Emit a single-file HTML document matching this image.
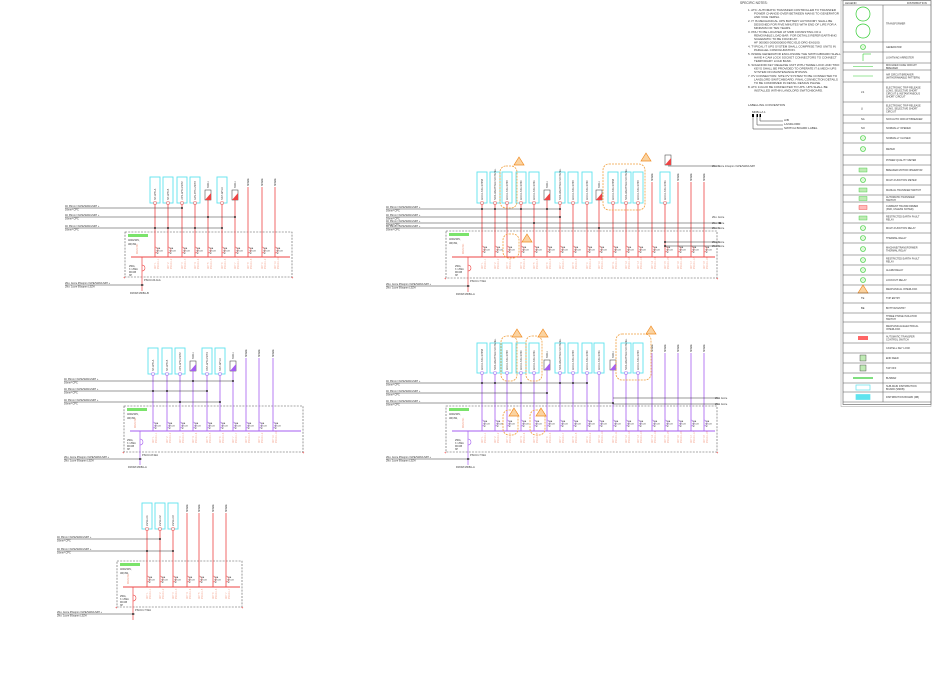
<!DOCTYPE html>
<html><head><meta charset="utf-8"><style>
html,body{margin:0;padding:0;background:#fff;}
svg{display:block;font-family:"Liberation Sans",sans-serif;}
</style></head><body>
<svg id="s" width="932" height="696" viewBox="0 0 932 696" xmlns="http://www.w3.org/2000/svg">
<g id="notes" font-size="3" fill="#333">
<text x="740" y="4" font-size="3.2">SPECIFIC NOTES:</text>
<text x="748" y="11">1.   ATC: AUTOMATIC TRANSFER CONTROLLER TO TRANSFER</text>
<text x="754" y="14.5">POWER CHANGE-OVER BETWEEN MAINS TO GENERATOR</text>
<text x="754" y="18">AND VICE VERSA.</text>
<text x="748" y="22">2.   IT IS MECHANICAL UPS BATTERY AUTONOMY SHALL BE</text>
<text x="754" y="25.5">DESIGNED FOR FIVE MINUTES WITH END OF LIFE FOR A</text>
<text x="754" y="29">MINIMUM OF TEN YEARS.</text>
<text x="748" y="33">3.   PDU TO BE LOCATED AT MDB CONSISTING OF A</text>
<text x="754" y="36.5">REMOVABLE LOAD BAR. FOR DETAILS REFER EARTHING</text>
<text x="754" y="40">SCHEMATIC TO BE FOUND AT:</text>
<text x="754" y="43.5">HF 000000 0000000000 REC-ELE-DRG-EA0100.</text>
<text x="748" y="47.5">4.   TYPICAL IT UPS SYSTEM SHALL COMPRISE TWO UNITS IN</text>
<text x="754" y="51">PARALLEL CONFIGURATION.</text>
<text x="748" y="55">5.   INSIDE GENERATOR ENCLOSURE THE SWITCHBOARD SHALL</text>
<text x="754" y="58.5">HAVE 4 CAM LOCK SOCKET CONNECTORS TO CONNECT</text>
<text x="754" y="62">TEMPORARY LOAD BANK.</text>
<text x="748" y="66">6.   SOLENOID KEY RELEASE UNIT WITH THREE LOCK AND TWO</text>
<text x="754" y="69.5">KEYS SHALL BE PROVIDED TO OPERATE IT &amp; MECH UPS</text>
<text x="754" y="73">SYSTEM ON MAINTENANCE BYPASS.</text>
<text x="748" y="77">7.   PV CONNECTION: SITE PV SYSTEM TO BE CONNECTED TO</text>
<text x="754" y="80.5">LANDLORD SWITCHBOARD. FINAL CONNECTION DETAILS</text>
<text x="754" y="84">TO BE CONFIRMED IN DETAIL DESIGN PHASE.</text>
<text x="748" y="88">8.   ATC 3-IGUO BE CONNECTED TO UPS. UPS SHALL BE</text>
<text x="754" y="91.5">INSTALLED WITHIN LANDLORD SWITCHBOARD.</text>
<text x="748" y="106">LABELLING CONVENTION</text>
<text x="752" y="113">MDB-LA 1</text>
<text x="784" y="121">A/B</text>
<text x="784" y="125">LANDLORD</text>
<text x="784" y="129">SWITCH BOARD LABEL</text>
<path d="M753 114v15h30M757 114v11h26M760 114v7h23" stroke="#333" stroke-width="0.5" fill="none"/>
<rect x="752" y="114" width="2" height="3" fill="#000"/><rect x="756.5" y="114" width="1.5" height="3" fill="#000"/><rect x="759.5" y="114" width="1.5" height="3" fill="#000"/>
</g>
<g id="g"></g>
</svg>
<script>
const NS="http://www.w3.org/2000/svg",G=document.getElementById('g');
function el(t,a,txt){const e=document.createElementNS(NS,t);for(const k in a)e.setAttribute(k,a[k]);if(txt!==undefined)e.textContent=txt;G.appendChild(e);return e;}
function line(x1,y1,x2,y2,c,w,d){const a={x1,y1,x2,y2,stroke:c,'stroke-width':w||0.6};if(d)a['stroke-dasharray']=d;return el('line',a);}
function txt(x,y,s,c,fs,rot){const a={x,y,fill:c||'#333','font-size':fs||3};if(rot)a.transform=`rotate(-90 ${x} ${y})`;return el('text',a,s);}
function cloud(x,y,w,h){el('rect',{x,y,width:w,height:h,rx:6,fill:'none',stroke:'#f0a040','stroke-width':0.8,'stroke-dasharray':'2 1'});}
function tri(x,y){el('path',{d:`M${x} ${y-5}l5 8h-10z`,fill:'#fbd3a0',stroke:'#f08a20','stroke-width':0.7});}
function panel(o){
 const c=o.c;
 el('rect',{x:o.bx,y:o.by,width:o.bw,height:o.bh,fill:'none',stroke:'#555','stroke-width':0.6,'stroke-dasharray':'2 1.2'});
 el('rect',{x:o.bx+3,y:o.by+2,width:20,height:3,fill:'#7be36b'});
 txt(o.bx+3,o.by+9,'400/230V,','#333',2.6);txt(o.bx+3,o.by+13,'3Ø,4W,','#333',2.6);
 line(o.bx+6,o.bus,o.bx+o.bw-2,o.bus,c,0.9);
 line(o.ix,o.bus,o.ix,o.fy+6,c,0.7);
 el('path',{d:`M${o.ix} ${o.bus+8}a3 3 0 0 1 0 6`,fill:'none',stroke:c,'stroke-width':0.6});
 txt(o.ix-13,o.bus+10,'250A,','#333',2.4);txt(o.ix-13,o.bus+13,'3 / 25kA','#333',2.4);txt(o.ix-13,o.bus+16,'MCCB','#333',2.4);txt(o.ix-13,o.bus+19,'3P','#333',2.4);
 txt(o.ix+2,o.by+o.bh+4,o.pn,'#333',2.6);
 line(o.bx-60,o.fy,o.ix+2,o.fy,'#333',0.6);el('circle',{cx:o.ix,cy:o.fy,r:0.9,fill:'#000'});
 txt(o.bx-60,o.fy-1,'2No. 4core 95sqmm XLPE/SWA/LSZH +','#333',2.5);txt(o.bx-60,o.fy+2.5,'2No. 1core 95sqmm LSZH','#333',2.5);
 if(o.from)txt(o.ix-12,o.fy+9,o.from,'#333',2.7);
 txt(o.bx+o.bw-1,o.by+o.bh+2,'+','#e00',4);txt(o.bx-2,o.by+o.bh+2,'+','#e00',4);
 txt(o.ix-4,o.bus-3,'MAIN INC','#f4a08a',2.3,1);
 o.xs.forEach((x,i)=>{
  const t=o.t[i];
  const top=t=='s'?o.lt+10:o.lb;
  line(x,top,x,o.bus,c,0.8);
  el('path',{d:`M${x} ${o.brk-3}a3 3 0 0 1 0 6`,fill:'none',stroke:c,'stroke-width':0.5});
  txt(x+1.5,o.brk-1,'63A','#333',2.1);txt(x+1.5,o.brk+1.5,'MCCB','#333',2.1);txt(x+1.5,o.brk+4,'3P','#333',2.1);
  txt(x+1,o.bus+12,'CKT '+(i+1),'#f4a08a',2.3,1);txt(x+4,o.bus+12,o.pn.slice(0,6)+'-'+(i+1),'#f4a08a',2.3,1);
  if(t=='b'){const w=10;el('rect',{x:x-w/2,y:o.lt,width:w,height:o.lb-o.lt,fill:'#fff',stroke:'#5fe3ee','stroke-width':0.9});
   txt(x+1,o.lb-3,o.names[i%o.names.length],'#333',2.5,1);el('rect',{x:x-1.2,y:o.lb-1.2,width:2.4,height:2.4,fill:'#fff',stroke:c,'stroke-width':0.5});}
  else if(t=='i'){el('rect',{x:x-3,y:o.lb-13,width:6,height:10,fill:'#fff',stroke:'#333','stroke-width':0.5});
   el('path',{d:`M${x-3} ${o.lb-3}l6 -7v7z`,fill:c});txt(x+1,o.lb-15,'SSR-1','#333',2.3,1);line(x,o.lb-3,x,o.lb,c,0.8);}
  else{txt(x+1,o.lt+9,'SPARE','#333',2.3,1);}
 });
 o.feed.forEach(f=>{line(o.bx-60,f[0],f[1],f[0],'#333',0.6);f.slice(2).forEach(x=>el('circle',{cx:x,cy:f[0],r:0.9,fill:'#000'}));
   txt(o.bx-60,f[0]-1,'4C 35mm² XLPE/SWA/LSZH +','#333',2.5);txt(o.bx-60,f[0]+2.5,'16mm² CPC','#333',2.5);});
}
const N1=['SP-WTI-A','SP-WTI-B','UPS-WTI-UNIT2','FAN-PPS-UNIT3','DSP-WTI-UNIT4','SSP-WTI-C'];
const N2=['ACCU-SS1-SP358','NDS-WEATHER-SR PANEL','ACCU-SS1-SP39','ACCU-SS1-SP40','ACCU-SS1-SP41'];
const R='#ee4444',P='#a55ef0';
const X18=[482,495,507,521,534,547,560,573,587,599,613,626,638,652,665,678,691,704];
panel({c:R,bx:125,by:232,bw:167,bh:45,bus:257,brk:250,ix:142,fy:285,pn:'PSCC1:R-1kA',from:'FROM MDB-LB',
 xs:[155,168,182,195,208,222,235,248,262,275],t:'bbbbibisss'.split(''),lt:177,lb:203,names:N1,
 feed:[[208,182,182],[217,235,208,235],[228,222,155,168,195,222]]});
panel({c:R,bx:446,by:231,bw:271,bh:47,bus:257,brk:249,ix:468,fy:286,pn:'PSCC1:7.5kA',from:'FROM MDB-LA',
 xs:X18,t:'bbbbbibbbibbbsbsss'.split(''),lt:172,lb:203,names:N2,
 feed:[[209,560,482,495,521,547,560],[217,560,560],[223,720,534,720],[228,720,599]]});
panel({c:P,bx:124,by:406,bw:179,bh:46,bus:431,brk:425,ix:140,fy:459,pn:'PSCC1:8.3kA',from:'FROM MDB-LA',
 xs:[153,167,180,193,207,220,233,246,259,273],t:'bbbibbisss'.split(''),lt:348,lb:374,names:N1,
 feed:[[381,233,193,233],[391,207,153,167,207],[402,220,180,220]]});
panel({c:P,bx:446,by:406,bw:271,bh:46,bus:431,brk:423,ix:468,fy:459,pn:'PSCC1:7.5kA',from:'FROM MDB-LA',
 xs:X18,t:'bbbbbibbbbibbsssss'.split(''),lt:343,lb:373,names:N2,
 feed:[[383,587,482,495,521,560,573,587],[393,547,547],[403,613,613]]});
panel({c:R,bx:117,by:561,bw:125,bh:46,bus:587,brk:579,ix:133,fy:614,pn:'PSCC1:7.5kA',from:'',
 xs:[147,160,173,187,199,213,226],t:'bbbssss'.split(''),lt:503,lb:529,names:['EVSE-C1','EVSE-C2','EVSE-C3'],
 feed:[[539,160,160],[551,173,147,173]]});
[[217,720],[223,720],[228,720],[242,720],[246,720]].forEach((f,i)=>{if(i>2){line(665,f[0],720,f[0],'#333',0.6);el('circle',{cx:665,cy:f[0],r:0.9,fill:'#000'});}txt(712,f[0]+1,'2No. 4core','#333',2.5);});
line(668,166,720,166,'#333',0.6);txt(712,167,'2No. 4core 10sqmm XLPE/SWA/LSZH','#333',2.5);
el('rect',{x:665,y:155,width:6,height:10,fill:'#fff',stroke:'#333','stroke-width':0.5});el('path',{d:'M665 165l6 -7v7z',fill:R});
[[398,720],[404,720]].forEach(f=>{line(613,f[0],720,f[0],'#333',0.6);txt(715,f[0]+1,'2No. 4core','#333',2.5);});
cloud(500,166,17,42);tri(519,162);cloud(603,164,42,46);tri(646,158);cloud(503,234,16,24);tri(527,239);
cloud(501,336,16,45);tri(517,334);cloud(526,336,16,45);tri(543,334);cloud(616,334,35,46);tri(651,331);
cloud(503,410,15,25);tri(514,413);cloud(530,410,15,25);tri(541,413);
const LX=843,LW=88,LC=883;
el('rect',{x:LX,y:0.5,width:LW,height:404,fill:'#fff',stroke:'#555','stroke-width':0.6});
el('rect',{x:LX-2,y:0.5,width:LW+2,height:406,fill:'none',stroke:'#888','stroke-width':0.4});
txt(LX+2,4,'LEGEND','#333',2.8);txt(LX+64,4,'DISTRIBUTION','#333',2.8);
const rows=[[5,'TRANSFORMER'],[42,'GENERATOR'],[52,'LIGHTNING ARRESTER'],[63,'MOULDED CASE CIRCUIT BREAKER'],[70,'AIR CIRCUIT BREAKER (WITHDRAWABLE PATTERN)'],[82,'ELECTRONIC TRIP RELEASE LONG, SELECTIVE SHORT CIRCUIT & INSTANTANEOUS SHORT CIRCUIT'],[102,'ELECTRONIC TRIP RELEASE LONG, SELECTIVE SHORT CIRCUIT'],[115,'NON AUTO CIRCUIT BREAKER'],[123,'NORMALLY OPENED'],[133,'NORMALLY CLOSED'],[143,'METER'],[155,'POWER QUALITY METER'],[165,'BREAKER MOTOR OPERATOR'],[175,'MULTI-FUNCTION METER'],[185,'MANUAL TRANSFER SWITCH'],[195,'AUTOMATIC TRANSFER SWITCH'],[202,'CURRENT TRANSFORMER (3NR, UNLESS NOTED)'],[213,'RESTRICTED EARTH FAULT RELAY'],[223,'MULTI-FUNCTION RELAY'],[233,'THERMAL RELAY'],[243,'MACHINE/TRANSFORMER THERMAL RELAY'],[255,'RESTRICTED EARTH FAULT RELAY'],[265,'ALARM RELAY'],[275,'LOCKOUT RELAY'],[285,'MECHANICAL INTERLOCK'],[293,'TOP ENTRY'],[303,'BOTTOM ENTRY'],[313,'THREE PHASE ISOLATOR SWITCH'],[322,'MECHANICAL/ELECTRICAL INTERLOCK'],[333,'AUTOMATIC TRANSFER CONTROL SWITCH'],[343,'CASTELL KEY LOCK'],[353,'END FEED'],[363,'TAP OFF'],[373,'BUSBAR'],[383,'SUB-MAIN DISTRIBUTION BOARD (SMDB)'],[392,'DISTRIBUTION BOARD (DB)'],[402,'']];
function wrap(s,n){const w=s.split(' '),out=[];let cur='';w.forEach(x=>{if((cur+' '+x).trim().length>n){out.push(cur);cur=x;}else cur=(cur+' '+x).trim();});if(cur)out.push(cur);return out;}
line(LC,5,LC,402,'#555',0.5);
for(let i=0;i<rows.length;i++){const y=rows[i][0];line(LX,y,LX+LW,y,'#555',0.5);
 if(i<rows.length-1){const y2=rows[i+1][0],m=(y+y2)/2;
  const ls=wrap(rows[i][1],24);const maxl=Math.max(1,Math.floor((y2-y-1)/3));const L=ls.slice(0,maxl);
  L.forEach((s,k)=>txt(LC+3,m+1-(L.length-1)*1.5+k*3,s,'#333',2.5));
  const cx=(LX+LC)/2;
  if(i==0){el('circle',{cx,cy:14,r:7,fill:'none',stroke:'#3c3','stroke-width':0.7});el('circle',{cx,cy:31,r:7,fill:'none',stroke:'#3c3','stroke-width':0.7});}
  else if([1,9,10,13,18,19,20,21,22,23].includes(i))el('circle',{cx,cy:m,r:2.5,fill:'#dff7d9',stroke:'#3c3','stroke-width':0.6});
  else if(i==2){line(cx,y+2,cx,y2-2,'#3c3',0.6);line(cx,y+2,cx+8,y+2,'#3c3',0.6);}
  else if([12,14,15,16,17].includes(i))el('rect',{x:cx-4,y:m-2,width:8,height:4,fill:i==16?'#fbb':'#bfeab4',stroke:i==16?'#e33':'#3c3','stroke-width':0.4});
  else if(i==3||i==4){line(cx-10,m,cx+10,m,'#3c3',0.6);}
  else if(i==33){line(cx-10,m,cx+10,m,'#3c3',1.2);}
  else if(i==34||i==35){el('rect',{x:cx-7,y:m-2.5,width:14,height:5,fill:i==35?'#5fe3ee':'#fff',stroke:'#5fe3ee','stroke-width':0.7});}
  else if(i==29){el('rect',{x:cx-5,y:m-2,width:10,height:4,fill:'#f66'});}
  else if(i==24){tri(cx,m+1);}
  else if([5,6,7,8,25,26].includes(i))txt(cx-2,m+1,{5:'LS',6:'LI',7:'NA',8:'NO',25:'TE',26:'BE'}[i],'#333',2.6);
  else if(i==31||i==32)el('rect',{x:cx-3,y:m-3,width:6,height:6,fill:'#bfeab4',stroke:'#333','stroke-width':0.4});
 }}
</script>
</body></html>
